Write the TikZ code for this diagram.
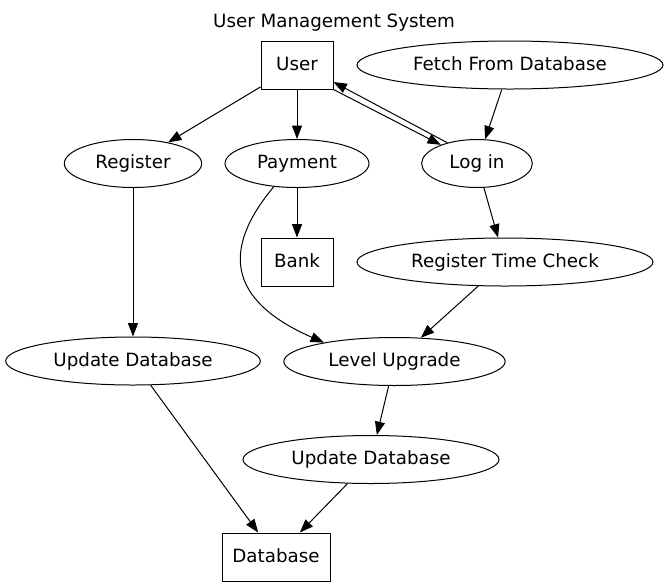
\documentclass[tikz,border=0pt]{standalone}
\usepackage{fontspec}
\setmainfont{DejaVu Sans}
\usetikzlibrary{arrows.meta,shapes.geometric}
\newcommand{\heightnode}{36pt}
\newcommand{\widthbox}{54pt}
\tikzset{
    common/.style={draw, line width=0.75pt, inner sep=0pt, minimum height=\heightnode,
        font=\fontsize{13.7pt}{16pt}\selectfont, text height=10.6pt, text depth=3pt},
    box/.style={common, rectangle, minimum width=\widthbox},
    oval/.style={common, ellipse},
    link/.style={line width=0.75pt, -{Triangle[length=10pt, width=7.5pt]}}
}

\begin{document}
\begin{tikzpicture}[x=0.75pt, y=-0.75pt]
    \useasboundingbox (0,0) rectangle (669,587);

    \node[anchor=base, font=\fontsize{13.7pt}{16pt}\selectfont] (title) at (334,27) {User Management System};

    % top row
    \node[box] (user) at (297,65) {User};
    \node[oval, minimum width=229.5pt] (fetch) at (510,65) {Fetch From Database};

    % second row
    \node[oval, minimum width=103pt] (register) at (133,163.5) {Register};
    \node[oval, minimum width=108pt] (payment) at (297,163.5) {Payment};
    \node[oval, minimum width=83pt] (login) at (477,163.5) {Log in};

    % third row
    \node[box] (bank) at (297,262) {Bank};
    \node[oval, minimum width=222pt] (timecheck) at (505,262) {Register Time Check};

    % lower rows
    \node[oval, minimum width=191pt] (updateleft) at (133,361) {Update Database};
    \node[oval, minimum width=166pt] (level) at (394.5,361.5) {Level Upgrade};
    \node[oval, minimum width=192pt] (updateright) at (371,459.5) {Update Database};
    \node[box, minimum width=81pt] (database) at (276,557) {Database};

    \draw[link] (user) -- (register);
    \draw[link] (user) -- (payment);
    \draw[link] (user.south east) -- (login);
    \draw[link] (login.145) -- (user.-25);
    \draw[link] (fetch) -- (login);
    \draw[link] (payment) -- (bank);
    \draw[link] (payment.225) .. controls +(-51,61) and +(-98,-43) .. (level.165);
    \draw[link] (login) -- (timecheck);
    \draw[link] (timecheck) -- (level);
    \draw[link] (register) -- (updateleft);
    \draw[link] (updateleft) -- (database);
    \draw[link] (level) -- (updateright);
    \draw[link] (updateright) -- (database);
\end{tikzpicture}
\end{document}
